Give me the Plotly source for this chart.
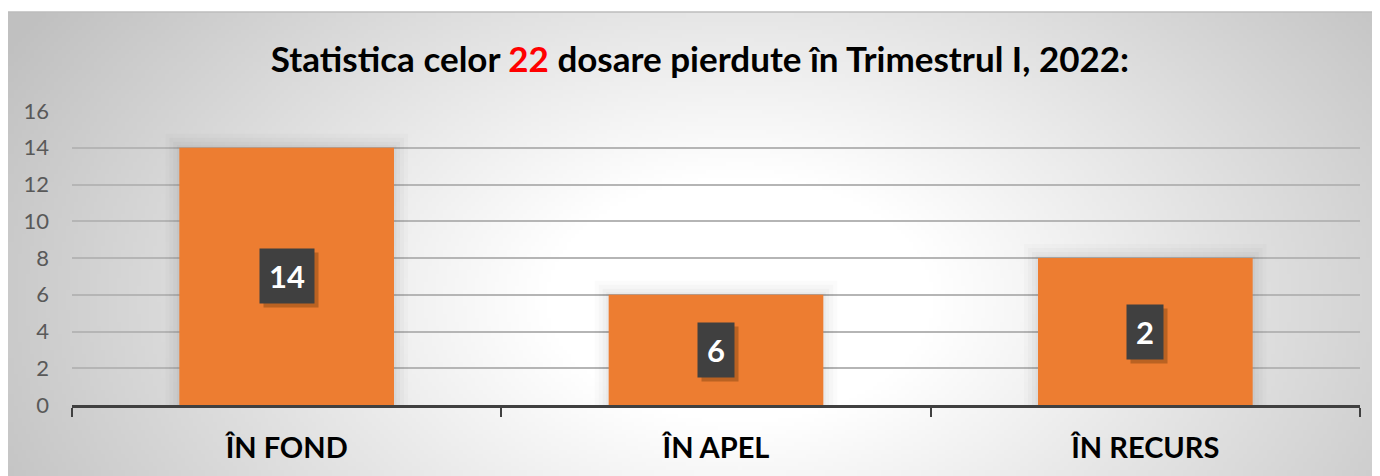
import base64
import struct
import zlib

import numpy as np
import plotly.graph_objects as go

# data
categories = ["ÎN FOND", "ÎN APEL", "ÎN RECURS"]
values = [14, 6, 8]
labels = ["14", "6", "2"]   # labels as printed on the original chart
title_count = "22"

# the page body adds an 8px margin, so the figure is drawn 8px smaller
# and every screen position is shifted back by OFF
OFF = 8
SW, SH = 1380, 476
W, H = SW - OFF, SH - OFF
ML, MR, MT, MB = 72 - OFF, 20, 111 - OFF, 71
ORANGE = "#ED7D31"
FONT = "Lato"


def png_data_uri(rgb):
    h, w, _ = rgb.shape
    raw = b"".join(b"\x00" + rgb[i].tobytes() for i in range(h))

    def chunk(tag, data):
        c = struct.pack(">I", len(data)) + tag + data
        return c + struct.pack(">I", zlib.crc32(tag + data) & 0xFFFFFFFF)

    png = b"\x89PNG\r\n\x1a\n"
    png += chunk(b"IHDR", struct.pack(">IIBBBBB", w, h, 8, 2, 0, 0, 0))
    png += chunk(b"IDAT", zlib.compress(raw, 9))
    png += chunk(b"IEND", b"")
    return "data:image/png;base64," + base64.b64encode(png).decode()


# radial gray background of the chart area (screen px 8..1380, 12..476)
bx0, by0, bx1, by1 = 8, 12, SW, SH
gw, gh = 345, 116
xs = np.linspace(bx0, bx1, gw)
ys = np.linspace(by0, by1, gh)
gx, gy = np.meshgrid(xs, ys)
d = np.sqrt(((gx - 740) / 700) ** 2 + ((gy - 300) / 450) ** 2)
t = np.clip((d - 0.28) / 0.92, 0, 1)
g = (255 - (255 - 192) * t).astype(np.uint8)
bg = png_data_uri(np.dstack([g, g, g]))

pw, ph = W - ML - MR, H - MT - MB


def px_to_paper_x(px):
    return (px - OFF - ML) / pw


def px_to_paper_y(py):
    return (H - MB - (py - OFF)) / ph


fig = go.Figure()

# soft glow behind the bars
for lw, a in [(28, 0.015), (20, 0.018), (12, 0.022), (5, 0.028)]:
    fig.add_trace(go.Bar(
        x=categories, y=values, width=0.5,
        marker=dict(color="rgba(0,0,0,0)", line=dict(color=f"rgba(0,0,0,{a})", width=lw)),
        hoverinfo="skip", showlegend=False,
    ))

fig.add_trace(go.Bar(
    x=categories, y=values, width=0.5,
    marker=dict(color=ORANGE, line=dict(width=0)),
    showlegend=False,
))

annotations = []
for c, v, lab in zip(categories, values, labels):
    # shadow of the label box (empty box, same size as the label box)
    annotations.append(dict(
        x=c, y=v / 2, text="", showarrow=False,
        xshift=4, yshift=-4, bgcolor="rgba(70,35,0,0.3)",
        borderpad=9, height=36, width=18 * len(lab),
    ))
    annotations.append(dict(
        x=c, y=v / 2, text=f"<b>{lab}</b>", showarrow=False,
        bgcolor="#404040", borderpad=9, height=36,
        font=dict(family=FONT, size=31, color="white"),
    ))

fig.update_layout(
    width=W, height=H,
    margin=dict(l=ML, r=MR, t=MT, b=MB),
    paper_bgcolor="white",
    plot_bgcolor="rgba(0,0,0,0)",
    barmode="overlay",
    bargap=0.5,
    title=dict(
        text=f"<b>Statistica celor <span style='color:#ff0000'>{title_count}</span> "
             "dosare pierdute în Trimestrul I, 2022:</b>",
        x=(700 - OFF) / W, xref="container", xanchor="center",
        y=1 - (60 - OFF) / H, yref="container", yanchor="middle",
        font=dict(family=FONT, size=35, color="black"),
    ),
    xaxis=dict(
        type="category", range=[-0.5, 2.5],
        showgrid=False, showline=True, linecolor="#404040", linewidth=3,
        ticks="outside", tickson="boundaries", ticklen=9, tickwidth=2, tickcolor="#404040",
        tickfont=dict(family=FONT, size=29, color="black", weight="bold"),
        ticklabelstandoff=15,
    ),
    yaxis=dict(
        range=[0, 16], dtick=2,
        showgrid=True, gridcolor="#b5b5b5", gridwidth=1.5,
        zeroline=False, showline=False,
        tickfont=dict(family=FONT, size=22, color="#595959"),
        ticklabelstandoff=22,
    ),
    images=[dict(
        source=bg, xref="paper", yref="paper",
        x=px_to_paper_x(bx0), y=px_to_paper_y(by0),
        sizex=px_to_paper_x(bx1) - px_to_paper_x(bx0),
        sizey=px_to_paper_y(by0) - px_to_paper_y(by1),
        xanchor="left", yanchor="top", sizing="stretch", layer="below",
    )],
    shapes=[dict(
        type="line", xref="paper", yref="paper",
        x0=px_to_paper_x(bx0), x1=px_to_paper_x(bx1),
        y0=px_to_paper_y(by0), y1=px_to_paper_y(by0),
        line=dict(color="#bdbdbd", width=1.5), layer="below",
    )],
    annotations=annotations,
)

fig.write_html("out.html")
